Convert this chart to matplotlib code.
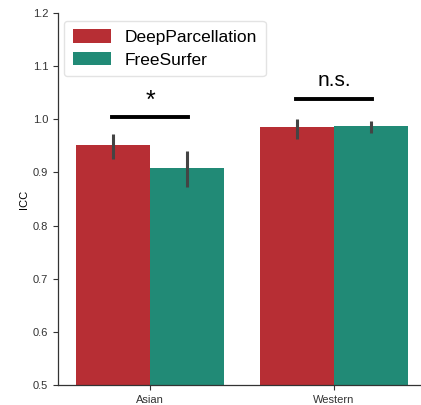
import matplotlib
matplotlib.use("Agg")
import matplotlib.pyplot as plt
import numpy as np

categories = ["Asian", "Western"]
methods = ["DeepParcellation", "FreeSurfer"]
means = {"DeepParcellation": [0.951, 0.985], "FreeSurfer": [0.908, 0.988]}
err_low = {"DeepParcellation": [0.926, 0.963], "FreeSurfer": [0.872, 0.974]}
err_high = {"DeepParcellation": [0.972, 1.000], "FreeSurfer": [0.941, 0.997]}
sig_labels = ["*", "n.s."]
sig_heights = [1.005, 1.038]
colors = {"DeepParcellation": "#B72E34", "FreeSurfer": "#218A76"}

plt.rcParams['font.family'] = ['Liberation Sans', 'DejaVu Sans']

fig = plt.figure(figsize=(4.21, 4.05), dpi=100)
ax = fig.add_axes([58/421, 20/405, 368/421, 372/405])

x = np.arange(len(categories))
width = 0.4
for i, m in enumerate(methods):
    pos = x - width/2 + i*width
    ax.bar(pos, means[m], width=width, color=colors[m], label=m, zorder=2)
    for p, lo, hi in zip(pos, err_low[m], err_high[m]):
        ax.plot([p, p], [lo, hi], color="#444444", lw=2.2, zorder=3, solid_capstyle='butt')

for xi, lab, h in zip(x, sig_labels, sig_heights):
    ax.plot([xi - 0.205, xi + 0.205], [h, h], color="black", lw=2.8, zorder=3)
    if lab == "*":
        ax.text(xi, h + 0.008, lab, ha="center", va="bottom", fontsize=18)
    else:
        ax.text(xi, h + 0.018, lab, ha="center", va="bottom", fontsize=15)

ax.set_xlim(-0.5, 1.5)
ax.set_ylim(0.5, 1.2)
ax.set_xticks(x)
ax.set_xticklabels(categories, fontsize=8)
ax.set_yticks(np.arange(0.5, 1.21, 0.1))
ax.set_yticklabels([f"{v:.1f}" for v in np.arange(0.5, 1.21, 0.1)], fontsize=8)
ax.set_ylabel("ICC", fontsize=8, labelpad=3)
ax.tick_params(axis='both', length=3.5, width=0.8, colors="#333333", labelcolor="#333333")
for s in ["top", "right"]:
    ax.spines[s].set_visible(False)
for s in ["left", "bottom"]:
    ax.spines[s].set_color("#333333")
    ax.spines[s].set_linewidth(0.9)

leg = ax.legend(loc="upper left", fontsize=12.5, frameon=True, handlelength=2.2,
                handleheight=0.8, borderpad=0.5, labelspacing=0.4,
                bbox_to_anchor=(-0.005, 1.0), borderaxespad=0.45)
leg.get_frame().set_edgecolor("#dddddd")

fig.savefig("out.png", dpi=100)
